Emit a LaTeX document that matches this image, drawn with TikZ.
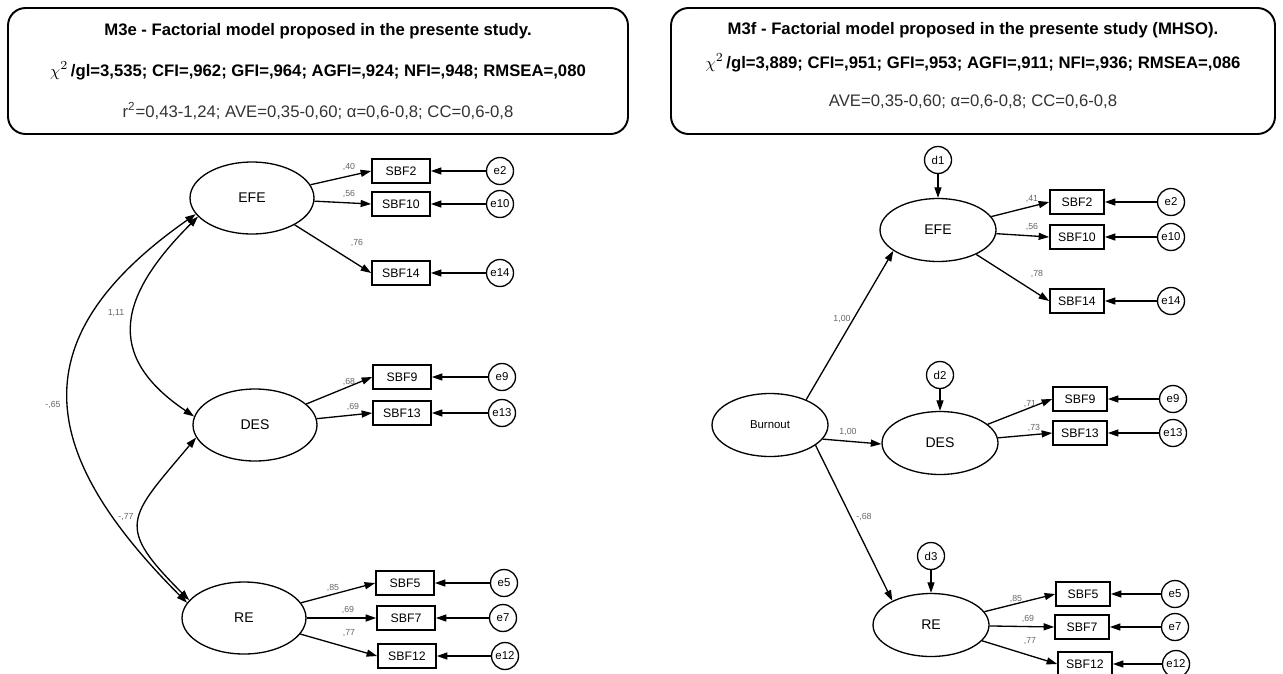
\documentclass[tikz,border=0pt]{standalone}
\usepackage{fontspec}
\setmainfont{Liberation Sans}
\usetikzlibrary{shapes.geometric, arrows.meta}

\begin{document}
\begin{tikzpicture}[x=0.02cm, y=-0.02cm, line width=0.75pt,
  latent/.style={draw, ellipse, minimum width=2.48cm, minimum height=1.44cm, inner sep=0pt, font=\fontsize{8}{9}\selectfont},
  latentb/.style={latent, minimum width=2.32cm, minimum height=1.26cm},
  item/.style={draw, rectangle, line width=0.95pt, minimum width=1.16cm, minimum height=0.48cm, inner sep=0pt, font=\fontsize{7}{8}\selectfont},
  itemb/.style={item, minimum width=1.08cm},
  err/.style={draw, circle, minimum size=0.54cm, inner sep=0pt, font=\fontsize{6.5}{7}\selectfont},
  coef/.style={inner sep=0pt, font=\fontsize{5}{6}\selectfont, text=black!60},
  reg/.style={-{Triangle[length=6pt, width=4pt]}},
  cov/.style={{Triangle[length=6pt, width=4pt]}-{Triangle[length=6pt, width=4pt]}},
  header/.style={draw, rounded corners=10pt, line width=1.1pt},
  hdrtext/.style={inner sep=0pt, font=\fontsize{9.5}{11}\selectfont}
]

\useasboundingbox (0,0) rectangle (1283,673);

% Headers
\draw[header] (8,8) rectangle (628,134);
\node[hdrtext] (titleA) at (318,31) {\bfseries M3e - Factorial model proposed in the presente study.};
\node[hdrtext] (fitA) at (318,71) {$\chi^2$\,\bfseries /gl=3,535; CFI=,962; GFI=,964; AGFI=,924; NFI=,948; RMSEA=,080};
\node[hdrtext, text=black!80] (relA) at (318,111) {r\textsuperscript{2}=0,43-1,24; AVE=0,35-0,60; α=0,6-0,8; CC=0,6-0,8};

\draw[header] (671,8) rectangle (1275,134);
\node[hdrtext] (titleB) at (973,30) {\bfseries M3f - Factorial model proposed in the presente study (MHSO).};
\node[hdrtext] (fitB) at (973,63) {$\chi^2$\,\bfseries /gl=3,889; CFI=,951; GFI=,953; AGFI=,911; NFI=,936; RMSEA=,086};
\node[hdrtext, text=black!80] (relB) at (973,102) {AVE=0,35-0,60; α=0,6-0,8; CC=0,6-0,8};

% M3e: correlated factors
\node[latent] (EFEa) at (252,198) {EFE};
\node[latent] (DESa) at (255,425) {DES};
\node[latent] (REa) at (244,618) {RE};

\foreach \f/\n/\x/\y/\ex/\c/\cx/\cy in {
    EFEa/2/401/171/500/{,40}/349/167, EFEa/10/401/204/500/{,56}/349/194, EFEa/14/401/273/500/{,76}/357/243,
    DESa/9/402/377/502/{,68}/349/382, DESa/13/402/413/502/{,69}/353/407,
    REa/5/405/583/504/{,85}/333/588, REa/7/406/618/503/{,69}/348/610, REa/12/407/656/505/{,77}/349/633} {
  \node[item] (SBFa\n) at (\x,\y) {SBF\n};
  \node[err] (ea\n) at (\ex,\y) {e\n};
  \draw[reg] (ea\n) -- (SBFa\n);
  \draw[reg] (\f) -- (SBFa\n.west);
  \node[coef] (ca\n) at (\cx,\cy) {\c};
}

\draw[cov] (EFEa.199) to[out=225, in=146, looseness=1.41] (DESa.172);
\draw[cov] (EFEa.196) to[out=215, in=135, looseness=1.41] (REa.165);
\draw[cov] (DESa.192) to[out=230, in=135, looseness=1.66] (REa.162);
\node[coef] (r111) at (116,313) {1,11};
\node[coef] (r065) at (53,405) {-,65};
\node[coef] (r077) at (126,517) {-,77};

% M3f: second order factor
\node[latentb, font=\fontsize{6.5}{7}\selectfont] (burn) at (770,425) {Burnout};
\node[latentb] (EFEb) at (938,230) {EFE};
\node[latentb] (DESb) at (940,443) {DES};
\node[latentb] (REb) at (931,625) {RE};

\foreach \f/\d/\y in {EFEb/1/160, DESb/2/375, REb/3/556} {
  \node[err] (d\d) at (\f |- 0,\y) {d\d};
  \draw[reg] (d\d) -- (\f);
}

\foreach \f/\n/\x/\y/\ex/\c/\cx/\cy in {
    EFEb/2/1077/202/1171/{,41}/1032/199, EFEb/10/1077/237/1171/{,56}/1032/227, EFEb/14/1077/301/1171/{,78}/1037/274,
    DESb/9/1080/399/1173/{,71}/1030/404, DESb/13/1080/433/1173/{,73}/1034/428,
    REb/5/1083/594/1175/{,85}/1016/599, REb/7/1082/627/1175/{,69}/1028/619, REb/12/1085/664/1176/{,77}/1030/641} {
  \node[itemb] (SBFb\n) at (\x,\y) {SBF\n};
  \node[err] (eb\n) at (\ex,\y) {e\n};
  \draw[reg] (eb\n) -- (SBFb\n);
  \draw[reg] (\f) -- (SBFb\n.west);
  \node[coef] (cb\n) at (\cx,\cy) {\c};
}

\draw[reg] (burn.35) -- (EFEb.205);
\draw[reg] (burn.345) -- (DESb.181);
\draw[reg] (burn.336) -- (REb.148);
\node[coef] (g1) at (842,319) {1,00};
\node[coef] (g2) at (848,432) {1,00};
\node[coef] (g3) at (864,517) {-,68};

\end{tikzpicture}
\end{document}
